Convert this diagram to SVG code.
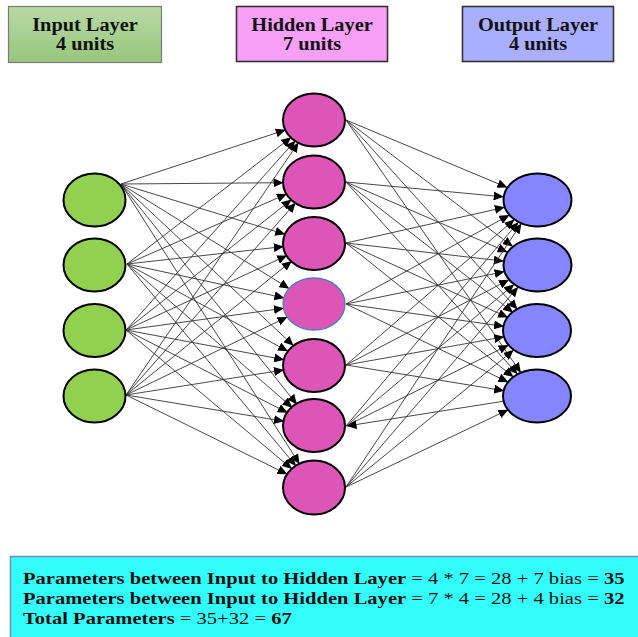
<svg xmlns="http://www.w3.org/2000/svg" width="638" height="637" viewBox="0 0 638 637">
  <defs>
    <linearGradient id="gradInput" x1="0" y1="0" x2="0" y2="1">
      <stop offset="0" stop-color="#b9d9a6"/>
      <stop offset="1" stop-color="#97c67c"/>
    </linearGradient>
    <marker id="arrow" markerUnits="userSpaceOnUse" viewBox="0 0 10 9" markerWidth="10" markerHeight="9" refX="9.5" refY="4.5" orient="auto">
      <path d="M0,0 L10,4.5 L0,9 z" fill="#000"/>
    </marker>
    <style>
      .hdr { font-family: "Liberation Serif", "Times New Roman", serif; font-weight: bold; font-size: 18px; fill: #111; text-anchor: middle; }
      .info { font-family: "Liberation Serif", "Times New Roman", serif; font-size: 17px; fill: #111; }
      .b { font-weight: bold; }
      .edge { stroke: #333; stroke-width: 0.9; fill: none; marker-end: url(#arrow); }
      .in { fill: #92d050; stroke: #000; stroke-width: 2; }
      .hid { fill: #dd55b7; stroke: #000; stroke-width: 2; }
      .out { fill: #8585ff; stroke: #000; stroke-width: 2; }
    </style>
  </defs>

  <rect width="638" height="637" fill="#fff"/>

  <!-- layer title boxes -->
  <g id="title-input">
    <rect x="8.5" y="6.5" width="153" height="56" fill="url(#gradInput)" stroke="#7a7a7a" stroke-width="1.2"/>
    <text class="hdr" transform="translate(85,31) scale(1.13,1)">Input Layer</text>
    <text class="hdr" transform="translate(85,50) scale(1.13,1)">4 units</text>
  </g>
  <g id="title-hidden">
    <rect x="236.5" y="6.5" width="151" height="55" fill="#f8a0f8" stroke="#333" stroke-width="1.6"/>
    <text class="hdr" transform="translate(312,31) scale(1.13,1)">Hidden Layer</text>
    <text class="hdr" transform="translate(312,50) scale(1.13,1)">7 units</text>
  </g>
  <g id="title-output">
    <rect x="462.5" y="6.5" width="151" height="55" fill="#aaaeff" stroke="#333" stroke-width="1.6"/>
    <text class="hdr" transform="translate(538,31) scale(1.13,1)">Output Layer</text>
    <text class="hdr" transform="translate(538,50) scale(1.13,1)">4 units</text>
  </g>

  <!-- connectors -->
  <g id="connectors">
    <!-- input 1 -> hidden -->
    <line class="edge" x1="121" y1="184" x2="285.3" y2="130.0"/>
    <line class="edge" x1="121" y1="184" x2="283.0" y2="182.7"/>
    <line class="edge" x1="121" y1="184" x2="284.7" y2="234.2"/>
    <line class="edge" x1="121" y1="184" x2="288.9" y2="288.4"/>
    <line class="edge" x1="121" y1="184" x2="293.2" y2="345.4"/>
    <line class="edge" x1="121" y1="184" x2="296.6" y2="404.1"/>
    <line class="edge" x1="121" y1="184" x2="299.3" y2="463.7"/>
    <!-- input 2 -> hidden -->
    <line class="edge" x1="127" y1="264" x2="290.9" y2="137.6"/>
    <line class="edge" x1="127" y1="264" x2="286.4" y2="194.1"/>
    <line class="edge" x1="127" y1="264" x2="283.3" y2="246.6"/>
    <line class="edge" x1="127" y1="264" x2="283.9" y2="297.8"/>
    <line class="edge" x1="127" y1="264" x2="287.6" y2="351.1"/>
    <line class="edge" x1="127" y1="264" x2="292.0" y2="407.3"/>
    <line class="edge" x1="127" y1="264" x2="295.7" y2="465.6"/>
    <!-- input 3 -> hidden -->
    <line class="edge" x1="126" y1="330" x2="295.1" y2="141.0"/>
    <line class="edge" x1="126" y1="330" x2="291.2" y2="199.9"/>
    <line class="edge" x1="126" y1="330" x2="286.7" y2="255.6"/>
    <line class="edge" x1="126" y1="330" x2="283.4" y2="308.3"/>
    <line class="edge" x1="126" y1="330" x2="283.7" y2="359.6"/>
    <line class="edge" x1="126" y1="330" x2="287.2" y2="412.6"/>
    <line class="edge" x1="126" y1="330" x2="291.6" y2="468.6"/>
    <!-- input 4 -> hidden -->
    <line class="edge" x1="126" y1="395" x2="298.3" y2="142.8"/>
    <line class="edge" x1="126" y1="395" x2="295.3" y2="203.1"/>
    <line class="edge" x1="126" y1="395" x2="291.4" y2="261.2"/>
    <line class="edge" x1="126" y1="395" x2="287.0" y2="317.1"/>
    <line class="edge" x1="126" y1="395" x2="283.5" y2="370.0"/>
    <line class="edge" x1="126" y1="395" x2="283.5" y2="421.2"/>
    <line class="edge" x1="126" y1="395" x2="287.0" y2="474.1"/>

    <!-- hidden -> output -->
    <line class="edge" x1="346" y1="120" x2="506.9" y2="187.4"/>
    <line class="edge" x1="346" y1="120" x2="512.4" y2="246.3"/>
    <line class="edge" x1="346" y1="120" x2="517.2" y2="309.1"/>
    <line class="edge" x1="346" y1="120" x2="520.6" y2="372.3"/>

    <line class="edge" x1="346" y1="182" x2="503.2" y2="196.8"/>
    <line class="edge" x1="346" y1="182" x2="507.2" y2="252.0"/>
    <line class="edge" x1="346" y1="182" x2="512.7" y2="312.1"/>
    <line class="edge" x1="346" y1="182" x2="517.3" y2="374.0"/>

    <line class="edge" x1="346" y1="243" x2="504.3" y2="207.4"/>
    <line class="edge" x1="346" y1="243" x2="503.3" y2="261.1"/>
    <line class="edge" x1="346" y1="243" x2="507.6" y2="317.4"/>
    <line class="edge" x1="346" y1="243" x2="513.1" y2="376.8"/>

    <line class="edge" x1="346" y1="304" x2="509.0" y2="215.3"/>
    <line class="edge" x1="346" y1="304" x2="504.1" y2="271.7"/>
    <line class="edge" x1="346" y1="304" x2="503.5" y2="326.3"/>
    <line class="edge" x1="346" y1="304" x2="507.9" y2="382.0"/>

    <line class="edge" x1="346" y1="365" x2="514.0" y2="219.9"/>
    <line class="edge" x1="346" y1="365" x2="508.6" y2="279.9"/>
    <line class="edge" x1="346" y1="365" x2="503.8" y2="336.9"/>
    <line class="edge" x1="346" y1="365" x2="503.7" y2="390.6"/>

    <line class="edge" x1="346" y1="426" x2="518.1" y2="222.4"/>
    <line class="edge" x1="346" y1="426" x2="513.7" y2="284.7"/>
    <line class="edge" x1="346" y1="426" x2="508.2" y2="345.3"/>
    <line class="edge" x1="503.6" y1="401.2" x2="347" y2="426"/>

    <line class="edge" x1="346" y1="487" x2="521.1" y2="223.9"/>
    <line class="edge" x1="346" y1="487" x2="517.8" y2="287.3"/>
    <line class="edge" x1="346" y1="487" x2="513.3" y2="350.4"/>
    <line class="edge" x1="346" y1="487" x2="507.9" y2="409.9"/>
  </g>

  <!-- input layer -->
  <g id="input-1"><ellipse class="in" cx="94.5" cy="200" rx="31" ry="26.5"/></g>
  <g id="input-2"><ellipse class="in" cx="94.5" cy="265" rx="31" ry="26.5"/></g>
  <g id="input-3"><ellipse class="in" cx="94.5" cy="330.5" rx="31" ry="26.5"/></g>
  <g id="input-4"><ellipse class="in" cx="94.5" cy="396" rx="31" ry="26.5"/></g>

  <!-- hidden layer -->
  <g id="hidden-1"><ellipse class="hid" cx="314" cy="120" rx="31" ry="26.5"/></g>
  <g id="hidden-2"><ellipse class="hid" cx="314" cy="182" rx="31" ry="26.5"/></g>
  <g id="hidden-3"><ellipse class="hid" cx="314" cy="243.5" rx="31" ry="26.5"/></g>
  <g id="hidden-4"><ellipse cx="314" cy="304" rx="31" ry="26" fill="#dd55b7" stroke="#4a7ebb" stroke-width="1.3"/></g>
  <g id="hidden-5"><ellipse class="hid" cx="314" cy="365.5" rx="31" ry="26.5"/></g>
  <g id="hidden-6"><ellipse class="hid" cx="314" cy="425.5" rx="31" ry="26.5"/></g>
  <g id="hidden-7"><ellipse class="hid" cx="314" cy="487.5" rx="31" ry="27"/></g>

  <!-- output layer -->
  <g id="output-1"><ellipse class="out" cx="537.5" cy="200" rx="34" ry="26.5"/></g>
  <g id="output-2"><ellipse class="out" cx="537.5" cy="265" rx="34" ry="26.5"/></g>
  <g id="output-3"><ellipse class="out" cx="537" cy="330.5" rx="34" ry="26.5"/></g>
  <g id="output-4"><ellipse class="out" cx="537" cy="396" rx="34" ry="26.5"/></g>

  <!-- parameter summary -->
  <g id="summary">
    <rect x="10.5" y="556.5" width="640" height="90" fill="#33fdfb" stroke="#6f8fb5" stroke-width="1.5"/>
    <text class="info" transform="translate(23,584) scale(1.21,1)"><tspan class="b">Parameters between Input to Hidden Layer</tspan> = 4 * 7 = 28 + 7 bias = <tspan class="b">35</tspan></text>
    <text class="info" transform="translate(23,604) scale(1.21,1)"><tspan class="b">Parameters between Input to Hidden Layer</tspan> = 7 * 4 = 28 + 4 bias = <tspan class="b">32</tspan></text>
    <text class="info" transform="translate(23,623.5) scale(1.21,1)"><tspan class="b">Total Parameters</tspan> = 35+32 = <tspan class="b">67</tspan></text>
  </g>
</svg>
